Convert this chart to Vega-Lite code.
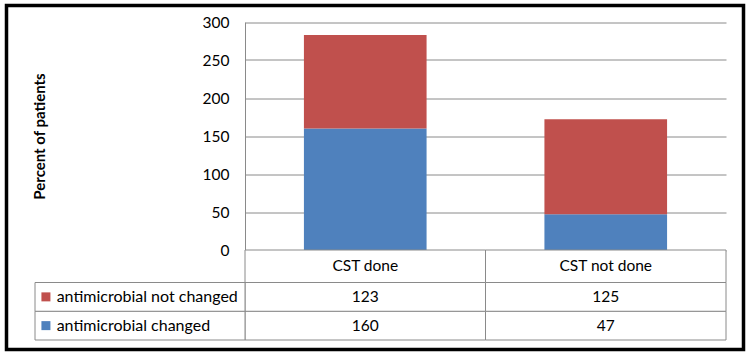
{
  "$schema": "https://vega.github.io/schema/vega-lite/v6.json",
  "width": 737,
  "height": 344,
  "autosize": {"type": "none"},
  "padding": {"left": 6.5, "top": 5.5, "right": 9.5, "bottom": 7.5},
  "background": "white",
  "config": {
    "view": {"stroke": "black", "strokeWidth": 3.5},
    "font": "Lato"
  },
  "data": {
    "values": [
      {"category": "CST done", "series": "antimicrobial changed", "value": 160},
      {"category": "CST done", "series": "antimicrobial not changed", "value": 123},
      {"category": "CST not done", "series": "antimicrobial changed", "value": 47},
      {"category": "CST not done", "series": "antimicrobial not changed", "value": 125}
    ]
  },
  "layer": [
    {
      "mark": {"type": "bar"},
      "encoding": {
        "x": {
          "field": "category", "type": "nominal",
          "scale": {"domain": ["CST done", "CST not done"], "range": [238.5, 719.5], "paddingInner": 0.49, "paddingOuter": 0.245},
          "axis": null
        },
        "y": {
          "field": "value", "type": "quantitative", "stack": "zero",
          "scale": {"domain": [0, 300], "range": [244.5, 16.5], "nice": false},
          "axis": {
            "values": [0, 50, 100, 150, 200, 250, 300],
            "offset": -238.5,
            "domain": true, "domainColor": "#8a8a8a", "domainWidth": 1,
            "ticks": false,
            "grid": true, "gridColor": "#8a8a8a", "gridWidth": 1,
            "labelPadding": 16, "labelFont": "Lato", "labelFontSize": 15.5, "labelColor": "black",
            "title": "Percent of patients", "titleFont": "Lato", "titleFontSize": 15, "titleFontWeight": "bold", "titleColor": "black",
            "titlePadding": 155
          }
        },
        "color": {
          "field": "series", "type": "nominal",
          "scale": {"domain": ["antimicrobial not changed", "antimicrobial changed"], "range": ["#C0504D", "#4F81BD"]},
          "legend": null
        },
        "order": {"field": "series", "sort": "ascending"}
      }
    },
    {
      "transform": [{"filter": {"field": "series", "equal": "antimicrobial changed"}}],
      "encoding": {
        "x": {
          "field": "category", "type": "nominal",
          "scale": {"domain": ["CST done", "CST not done"], "range": [238.5, 719.5], "paddingInner": 0, "paddingOuter": 0},
          "axis": null
        },
        "y": {"datum": "header", "type": "nominal", "scale": {"domain": ["header"], "range": [244.5, 277], "paddingInner": 0, "paddingOuter": 0}, "axis": null}
      },
      "layer": [
        {"mark": {"type": "rect", "fill": "white", "stroke": "#8a8a8a", "strokeWidth": 1}},
        {"mark": {"type": "text", "fontSize": 15.5, "color": "black", "font": "Lato"}, "encoding": {"text": {"field": "category"}}}
      ]
    },
    {
      "encoding": {
        "x": {
          "field": "category", "type": "nominal",
          "scale": {"domain": ["CST done", "CST not done"], "range": [238.5, 719.5], "paddingInner": 0, "paddingOuter": 0},
          "axis": null
        },
        "y": {
          "field": "series", "type": "nominal",
          "scale": {"domain": ["antimicrobial not changed", "antimicrobial changed"], "range": [277, 334.5], "paddingInner": 0, "paddingOuter": 0},
          "axis": null
        }
      },
      "layer": [
        {"mark": {"type": "rect", "fill": "white", "stroke": "#8a8a8a", "strokeWidth": 1}},
        {"mark": {"type": "text", "fontSize": 15.5, "color": "black", "font": "Lato"}, "encoding": {"text": {"field": "value"}}}
      ]
    },
    {
      "transform": [{"filter": {"field": "category", "equal": "CST done"}}],
      "encoding": {
        "y": {
          "field": "series", "type": "nominal",
          "scale": {"domain": ["antimicrobial not changed", "antimicrobial changed"], "range": [277, 334.5], "paddingInner": 0, "paddingOuter": 0},
          "axis": null
        }
      },
      "layer": [
        {
          "mark": {"type": "rect", "fill": "white", "stroke": "#8a8a8a", "strokeWidth": 1},
          "encoding": {
            "x": {"datum": 0, "type": "quantitative", "scale": {"domain": [0, 1], "range": [28.5, 238.5]}, "axis": null},
            "x2": {"datum": 1}
          }
        },
        {
          "mark": {"type": "point", "shape": "square", "filled": true, "size": 81, "opacity": 1},
          "encoding": {
            "x": {"datum": 0.052, "type": "quantitative", "scale": {"domain": [0, 1], "range": [28.5, 238.5]}, "axis": null},
            "color": {"field": "series", "type": "nominal", "legend": null}
          }
        },
        {
          "mark": {"type": "text", "align": "left", "fontSize": 16, "color": "black", "font": "Lato"},
          "encoding": {
            "x": {"datum": 0.103, "type": "quantitative", "scale": {"domain": [0, 1], "range": [28.5, 238.5]}, "axis": null},
            "text": {"field": "series"}
          }
        }
      ]
    }
  ],
  "resolve": {
    "scale": {"x": "independent", "y": "independent"},
    "axis": {"x": "independent", "y": "independent"}
  }
}
